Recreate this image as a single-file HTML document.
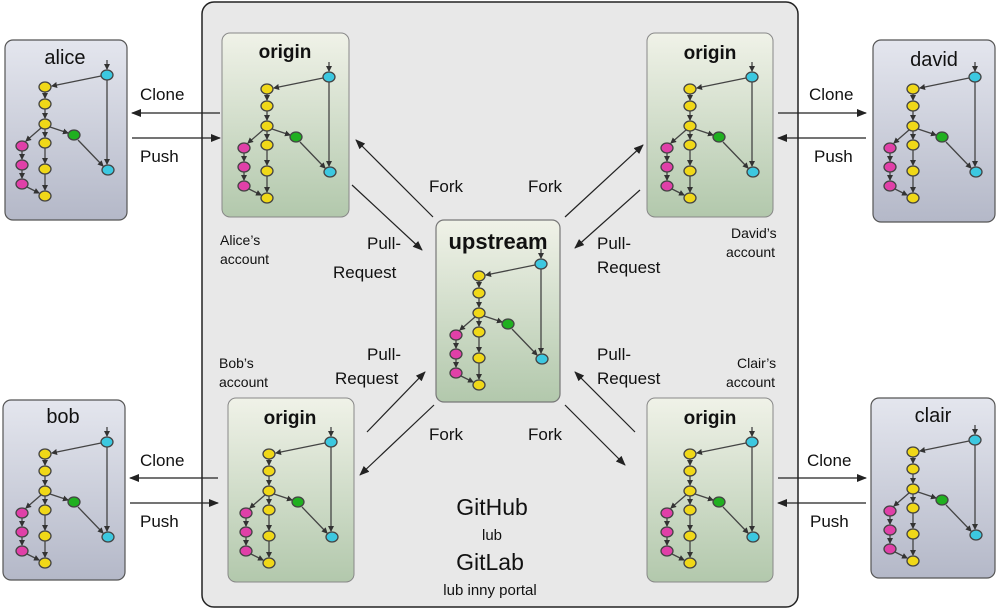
<!DOCTYPE html>
<html><head><meta charset="utf-8"><style>
body{margin:0;background:#fff;}
svg text{font-family:"Liberation Sans",sans-serif;}
</style></head><body>
<svg width="1000" height="610" viewBox="0 0 1000 610" xmlns="http://www.w3.org/2000/svg">
<defs>
<linearGradient id="gb" x1="0" y1="0" x2="0" y2="1"><stop offset="0" stop-color="#e4e6ee"/><stop offset="1" stop-color="#b4b8c8"/></linearGradient>
<linearGradient id="gg" x1="0" y1="0" x2="0" y2="1"><stop offset="0" stop-color="#f0f2e8"/><stop offset="1" stop-color="#b2c8ac"/></linearGradient>
<marker id="ah" markerWidth="10" markerHeight="8" refX="9" refY="4" orient="auto" markerUnits="userSpaceOnUse"><path d="M0,0 L10,4 L0,8 Z" fill="#222"/></marker>
<marker id="sh" markerWidth="6" markerHeight="6" refX="5" refY="3" orient="auto" markerUnits="userSpaceOnUse"><path d="M0,0 L6,3 L0,6 Z" fill="#333"/></marker>
<g id="graph" stroke="#444" stroke-width="1.3">
<g fill="none" marker-end="url(#sh)">
<line x1="0" y1="-15" x2="0" y2="-6"/>
<line x1="-6" y1="1" x2="-55" y2="11"/>
<line x1="-62" y1="17" x2="-62" y2="23"/>
<line x1="-62" y1="34" x2="-62" y2="43"/>
<line x1="-57" y1="52" x2="-39" y2="58"/>
<line x1="-66" y1="53" x2="-81" y2="66"/>
<line x1="-62" y1="54" x2="-62" y2="62"/>
<line x1="-85" y1="76" x2="-85" y2="84"/>
<line x1="-85" y1="95" x2="-85" y2="103"/>
<line x1="-80" y1="112" x2="-68" y2="118"/>
<line x1="-62" y1="73" x2="-62" y2="88"/>
<line x1="-62" y1="99" x2="-62" y2="115"/>
<line x1="-29" y1="65" x2="-4" y2="91"/>
<line x1="0" y1="5" x2="0" y2="89"/>
</g>
<ellipse cx="0" cy="0" rx="6" ry="5" fill="#3cc8e0"/>
<ellipse cx="1" cy="95" rx="6" ry="5" fill="#3cc8e0"/>
<ellipse cx="-62" cy="12" rx="6" ry="5" fill="#f0d818"/>
<ellipse cx="-62" cy="29" rx="6" ry="5" fill="#f0d818"/>
<ellipse cx="-62" cy="49" rx="6" ry="5" fill="#f0d818"/>
<ellipse cx="-62" cy="68" rx="6" ry="5" fill="#f0d818"/>
<ellipse cx="-62" cy="94" rx="6" ry="5" fill="#f0d818"/>
<ellipse cx="-62" cy="121" rx="6" ry="5" fill="#f0d818"/>
<ellipse cx="-33" cy="60" rx="6" ry="5" fill="#20b020"/>
<ellipse cx="-85" cy="71" rx="6" ry="5" fill="#e040a8"/>
<ellipse cx="-85" cy="90" rx="6" ry="5" fill="#e040a8"/>
<ellipse cx="-85" cy="109" rx="6" ry="5" fill="#e040a8"/>
</g>
</defs>
<rect x="202" y="2" width="596" height="605" rx="12" fill="#e8e8e8" stroke="#222" stroke-width="1.5"/>

<!-- user boxes -->
<rect x="5" y="40" width="122" height="180" rx="8" fill="url(#gb)" stroke="#555" stroke-width="1.2"/>
<rect x="3" y="400" width="122" height="180" rx="8" fill="url(#gb)" stroke="#555" stroke-width="1.2"/>
<rect x="873" y="40" width="122" height="182" rx="8" fill="url(#gb)" stroke="#555" stroke-width="1.2"/>
<rect x="871" y="398" width="124" height="180" rx="8" fill="url(#gb)" stroke="#555" stroke-width="1.2"/>
<!-- origin boxes -->
<rect x="222" y="33" width="127" height="184" rx="8" fill="url(#gg)" stroke="#888" stroke-width="1"/>
<rect x="647" y="33" width="126" height="184" rx="8" fill="url(#gg)" stroke="#888" stroke-width="1"/>
<rect x="228" y="398" width="126" height="184" rx="8" fill="url(#gg)" stroke="#888" stroke-width="1"/>
<rect x="647" y="398" width="126" height="184" rx="8" fill="url(#gg)" stroke="#888" stroke-width="1"/>
<rect x="436" y="220" width="124" height="182" rx="8" fill="url(#gg)" stroke="#777" stroke-width="1.2"/>

<g font-size="20" text-anchor="middle" fill="#111">
<text x="65" y="64">alice</text>
<text x="63" y="423">bob</text>
<text x="934" y="66">david</text>
<text x="933" y="422">clair</text>
</g>
<g font-size="19" font-weight="bold" text-anchor="middle" fill="#111">
<text x="285" y="58">origin</text>
<text x="710" y="59">origin</text>
<text x="290" y="424">origin</text>
<text x="710" y="424">origin</text>
<text x="498" y="249" font-size="22" font-weight="normal" style="font-weight:600">upstream</text>
</g>

<use href="#graph" x="107" y="75"/>
<use href="#graph" x="329" y="77"/>
<use href="#graph" x="752" y="77"/>
<use href="#graph" x="975" y="77"/>
<use href="#graph" x="107" y="442"/>
<use href="#graph" x="331" y="442"/>
<use href="#graph" x="752" y="442"/>
<use href="#graph" x="975" y="440"/>
<use href="#graph" x="541" y="264"/>

<g stroke="#222" stroke-width="1.2" marker-end="url(#ah)">
<line x1="220" y1="113" x2="132" y2="113"/>
<line x1="132" y1="138" x2="220" y2="138"/>
<line x1="778" y1="113" x2="866" y2="113"/>
<line x1="866" y1="138" x2="778" y2="138"/>
<line x1="218" y1="478" x2="130" y2="478"/>
<line x1="130" y1="503" x2="218" y2="503"/>
<line x1="778" y1="478" x2="866" y2="478"/>
<line x1="866" y1="503" x2="778" y2="503"/>
<line x1="433" y1="217" x2="356" y2="140"/>
<line x1="352" y1="185" x2="422" y2="250"/>
<line x1="565" y1="217" x2="643" y2="145"/>
<line x1="640" y1="190" x2="575" y2="248"/>
<line x1="367" y1="432" x2="425" y2="372"/>
<line x1="434" y1="405" x2="360" y2="475"/>
<line x1="635" y1="432" x2="575" y2="372"/>
<line x1="565" y1="405" x2="625" y2="465"/>
</g>

<g font-size="17" fill="#111">
<text x="140" y="100">Clone</text>
<text x="140" y="162">Push</text>
<text x="809" y="100">Clone</text>
<text x="814" y="162">Push</text>
<text x="140" y="466">Clone</text>
<text x="140" y="527">Push</text>
<text x="807" y="466">Clone</text>
<text x="810" y="527">Push</text>
<text x="429" y="192">Fork</text>
<text x="528" y="192">Fork</text>
<text x="429" y="440">Fork</text>
<text x="528" y="440">Fork</text>
<text x="367" y="249">Pull-</text>
<text x="333" y="278">Request</text>
<text x="597" y="249">Pull-</text>
<text x="597" y="273">Request</text>
<text x="367" y="360">Pull-</text>
<text x="335" y="384">Request</text>
<text x="597" y="360">Pull-</text>
<text x="597" y="384">Request</text>
</g>
<g font-size="14" fill="#111">
<text x="220" y="245">Alice’s</text>
<text x="220" y="264">account</text>
<text x="731" y="238">David’s</text>
<text x="726" y="257">account</text>
<text x="219" y="368">Bob’s</text>
<text x="219" y="387">account</text>
<text x="737" y="368">Clair’s</text>
<text x="726" y="387">account</text>
</g>
<g text-anchor="middle" fill="#111">
<text x="492" y="515" font-size="23">GitHub</text>
<text x="492" y="540" font-size="15">lub</text>
<text x="490" y="570" font-size="23">GitLab</text>
<text x="490" y="595" font-size="15">lub inny portal</text>
</g>
</svg>
</body></html>
